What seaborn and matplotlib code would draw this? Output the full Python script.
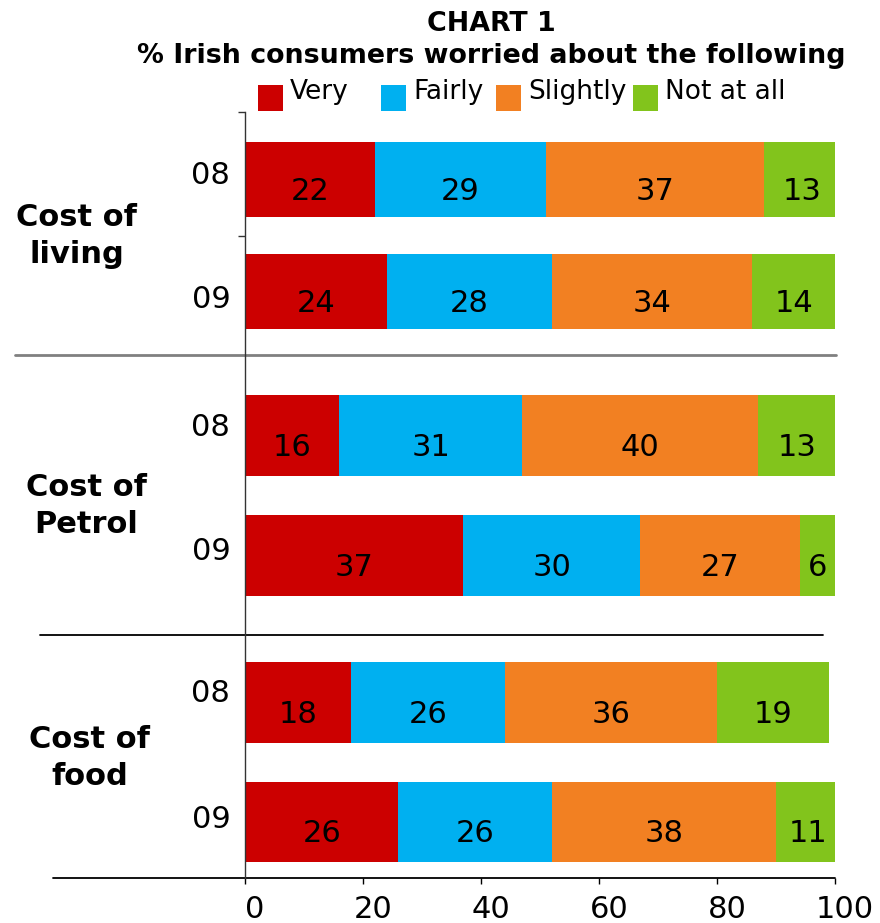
import matplotlib
matplotlib.use("Agg")
import matplotlib.pyplot as plt
import matplotlib.transforms as mtransforms
from matplotlib.patches import Rectangle
import pandas as pd
import seaborn as sns

# ---- data -----------------------------------------------------------------
groups = ["Cost of\nliving", "Cost of\nPetrol", "Cost of\nfood"]
years = ["08", "09", "08", "09", "08", "09"]
levels = ["Very", "Fairly", "Slightly", "Not at all"]
very = [22, 24, 16, 37, 18, 26]
fairly = [29, 28, 31, 30, 26, 26]
slightly = [37, 34, 40, 27, 36, 38]
not_at_all = [13, 14, 13, 6, 19, 11]
x_ticks = [0, 20, 40, 60, 80, 100]

# ---- styling / layout -----------------------------------------------------
colors = ["#CC0000", "#00B0F0", "#F28022", "#82C41C"]
W, H = 880, 923
AX_L, AX_R, AX_T, AX_B = 245, 835, 112, 878
bar_rows = [179.5, 291.5, 435.5, 555.5, 702.5, 822.0]
year_rows = [175, 300, 427, 552, 694, 820]
group_pos = [(-28.5, 236), (-26.9, 506), (-26.3, 758)]
label_drop = 12

sns.set_style("white")
plt.rcParams["font.family"] = ["DejaVu Sans"]
plt.rcParams["text.color"] = "black"
plt.rcParams["xtick.color"] = "black"
plt.rcParams["ytick.color"] = "black"
plt.rcParams["axes.labelcolor"] = "black"

series = [very, fairly, slightly, not_at_all]
records = []
for i in range(len(very)):
    total = 0
    for lvl, vals in zip(levels, series):
        total += vals[i]
        records.append({"row": bar_rows[i], "group": i // 2,
                        "level": lvl, "cum": total, "value": vals[i]})
df = pd.DataFrame(records)

fig = plt.figure(figsize=(W / 100, H / 100), dpi=100)
ax = fig.add_axes([AX_L / W, 1 - AX_B / H, (AX_R - AX_L) / W, (AX_B - AX_T) / H])

palette = dict(zip(levels, colors))
draw_order = levels[::-1]  # longest cumulative bar first, so shorter ones sit on top
for g in range(len(groups)):
    sub = df[df["group"] == g]
    sns.barplot(data=sub, x="cum", y="row", hue="level", hue_order=draw_order,
                palette=palette, dodge=False, native_scale=True, orient="h",
                width=0.67, errorbar=None, legend=False, saturation=1,
                linewidth=0, ax=ax)

ax.set_xlim(0, 100)
ax.set_ylim(AX_B, AX_T)
ax.set_xlabel("")
ax.set_ylabel("")

# value labels centred in each segment
for _, r in df.iterrows():
    centre = r["cum"] - r["value"] / 2
    ax.text(centre, r["row"] + label_drop, f"{r['value']:d}", ha="center",
            va="center", fontsize=22, color="black")

# year labels and group labels
for yr, row in zip(years, year_rows):
    ax.text(-2.5, row, yr, ha="right", va="center", fontsize=22, clip_on=False)
for name, (gx, gy) in zip(groups, group_pos):
    ax.text(gx, gy, name, ha="center", va="center", fontsize=22,
            fontweight="bold", multialignment="center", linespacing=1.32,
            clip_on=False)

# separators and base line
ax.plot([-39.0, 100.2], [354.5, 354.5], color="#808080", lw=2, clip_on=False)
ax.plot([-34.7, 98.0], [635, 635], color="black", lw=1.3, clip_on=False)
ax.plot([-32.5, 100.0], [AX_B, AX_B], color="black", lw=1.3, clip_on=False)

# spines and ticks
for side in ["top", "right", "bottom"]:
    ax.spines[side].set_visible(False)
ax.spines["left"].set_color("#333333")
ax.spines["left"].set_linewidth(1.0)

ax.set_xticks(x_ticks)
ax.set_xticklabels([str(t) for t in x_ticks])
ax.tick_params(axis="x", bottom=True, length=4, width=1, color="black",
               labelcolor="black", direction="out", labelsize=22, pad=8)
shift = mtransforms.ScaledTranslation(10 / 100, 0, fig.dpi_scale_trans)
for lab in ax.get_xticklabels():
    lab.set_transform(lab.get_transform() + shift)

ax.set_yticks([AX_T, 236])
ax.set_yticklabels(["", ""])
ax.tick_params(axis="y", left=True, length=5, width=1, color="#333333",
               direction="out")

# title
fig.text(491 / W, 1 - 24 / H, "CHART 1", ha="center", va="center",
         fontsize=19.4, fontweight="bold")
fig.text(491 / W, 1 - 56 / H, "% Irish consumers worried about the following",
         ha="center", va="center", fontsize=19.4, fontweight="bold")

# legend row
legend_boxes = [258, 381, 496, 633]
legend_texts = [290, 413, 528, 665]
for lvl, c, bx, tx in zip(levels, colors, legend_boxes, legend_texts):
    fig.add_artist(Rectangle((bx / W, 1 - 111 / H), 25 / W, 26 / H,
                             transform=fig.transFigure, color=c, lw=0))
    fig.text(tx / W, 1 - 92 / H, lvl, ha="left", va="center", fontsize=19)

fig.savefig("out.png", dpi=100)
